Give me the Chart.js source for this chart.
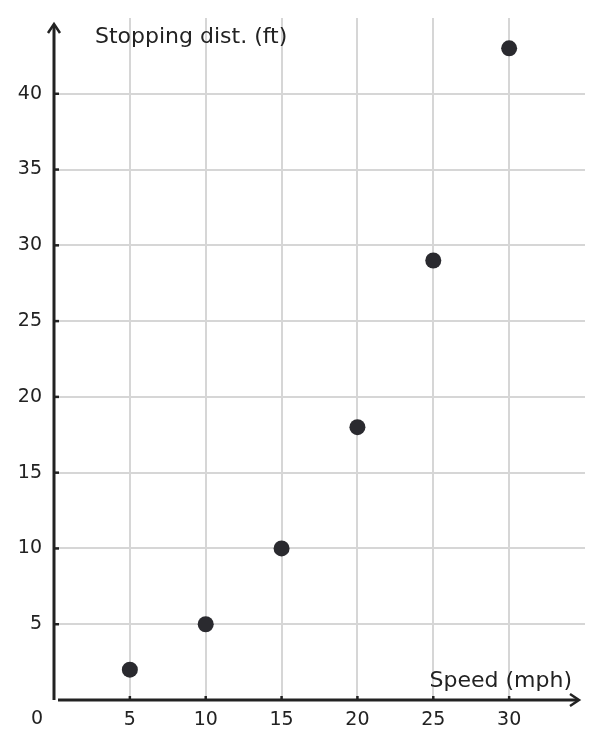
<!DOCTYPE html>
<html>
<head>
<meta charset="utf-8">
<script src="https://cdn.jsdelivr.net/npm/chart.js@4/dist/chart.umd.min.js"></script>
<style>
  html, body { margin: 0; padding: 0; background: #ffffff; overflow: hidden; }
  #c { display: block; width: 603px; height: 749px; }
</style>
</head>
<body>
<canvas id="c" width="603" height="749"></canvas>
<script>
const speeds = [5, 10, 15, 20, 25, 30];
const distances = [2, 5, 10, 18, 29, 43];
const xTickValues = [5, 10, 15, 20, 25, 30];
const yTickValues = [5, 10, 15, 20, 25, 30, 35, 40];
const xTitle = 'Speed (mph)';
const yTitle = 'Stopping dist. (ft)';
const originLabel = '0';

const FONT = "'DejaVu Sans', sans-serif";
const AXIS = '#222222';
const GRID = '#d6d6d6';
const DOT = '#2a2a2f';

const axesPlugin = {
  id: 'axesPlugin',
  afterDatasetsDraw(chart) {
    const ctx = chart.ctx;
    const xs = chart.scales.x, ys = chart.scales.y;
    const ox = xs.getPixelForValue(0), oy = ys.getPixelForValue(0);
    const xEnd = 579, yEnd = 24;
    ctx.save();
    ctx.strokeStyle = AXIS;
    ctx.fillStyle = AXIS;
    ctx.lineWidth = 3;
    ctx.lineCap = 'butt';
    ctx.beginPath();
    ctx.moveTo(ox, oy); ctx.lineTo(ox, yEnd + 2); ctx.stroke();
    ctx.beginPath();
    ctx.moveTo(ox + 4, oy); ctx.lineTo(xEnd - 2, oy); ctx.stroke();
    ctx.lineWidth = 2.5;
    ctx.lineJoin = 'miter';
    ctx.beginPath();
    ctx.moveTo(ox - 6, yEnd + 9); ctx.lineTo(ox, yEnd); ctx.lineTo(ox + 6, yEnd + 9);
    ctx.stroke();
    ctx.beginPath();
    ctx.moveTo(xEnd - 9, oy - 6); ctx.lineTo(xEnd, oy); ctx.lineTo(xEnd - 9, oy + 6);
    ctx.stroke();
    ctx.lineWidth = 2.5;
    xTickValues.forEach(v => {
      const px = xs.getPixelForValue(v);
      ctx.beginPath(); ctx.moveTo(px, oy); ctx.lineTo(px, oy - 4); ctx.stroke();
    });
    yTickValues.forEach(v => {
      const py = ys.getPixelForValue(v);
      ctx.beginPath(); ctx.moveTo(ox, py); ctx.lineTo(ox + 5, py); ctx.stroke();
    });
    ctx.fillStyle = '#222222';
    ctx.font = '22px ' + FONT;
    ctx.textBaseline = 'alphabetic';
    ctx.textAlign = 'left';
    ctx.fillText(yTitle, 95, 43);
    ctx.textAlign = 'right';
    ctx.fillText(xTitle, 572, 687);
    ctx.font = '19px ' + FONT;
    ctx.textAlign = 'center';
    ctx.textBaseline = 'middle';
    ctx.fillText(originLabel, 37, 719);
    ctx.restore();
  }
};

new Chart(document.getElementById('c'), {
  type: 'scatter',
  data: {
    datasets: [{
      data: speeds.map((s, i) => ({ x: s, y: distances[i] })),
      backgroundColor: DOT,
      borderColor: DOT,
      pointRadius: 8,
      pointHoverRadius: 8,
      borderWidth: 0
    }]
  },
  options: {
    responsive: false,
    maintainAspectRatio: false,
    animation: false,
    devicePixelRatio: 1,
    layout: { padding: { left: 0, top: 18, right: 18, bottom: 0 } },
    plugins: { legend: { display: false }, tooltip: { enabled: false } },
    scales: {
      x: {
        type: 'linear', min: 0, max: 35,
        afterFit(s) { s.height = 49; s.paddingLeft = 0; s.paddingRight = 0; },
        afterBuildTicks(s) { s.ticks = xTickValues.map(v => ({ value: v })); },
        border: { display: false },
        grid: { color: GRID, lineWidth: 2, drawTicks: false },
        ticks: { padding: 9, color: '#222222', font: { family: FONT, size: 19 }, maxRotation: 0 }
      },
      y: {
        type: 'linear', min: 0, max: 45,
        afterFit(s) { s.width = 54; s.paddingTop = 0; s.paddingBottom = 0; },
        afterBuildTicks(s) { s.ticks = yTickValues.map(v => ({ value: v })); },
        border: { display: false },
        grid: { color: GRID, lineWidth: 2, drawTicks: false },
        ticks: { padding: 12, color: '#222222', font: { family: FONT, size: 19 } }
      }
    }
  },
  plugins: [axesPlugin]
});
</script>
</body>
</html>
